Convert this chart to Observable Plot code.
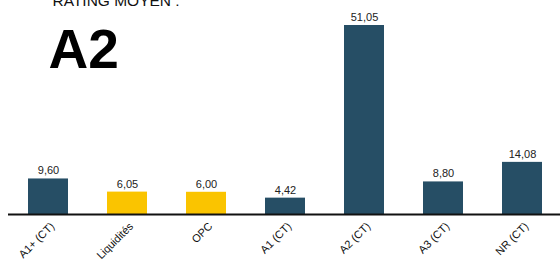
<!DOCTYPE html>
<html>
<head>
<meta charset="utf-8">
<script src="https://cdn.jsdelivr.net/npm/d3@7"></script>
<script src="https://cdn.jsdelivr.net/npm/@observablehq/plot@0.6"></script>
<style>
  html, body { margin: 0; padding: 0; background: #fff; }
  #chart { width: 560px; height: 262px; overflow: hidden; }
</style>
</head>
<body>
<div id="chart"></div>
<script>
const categories = ["A1+ (CT)", "Liquidités", "OPC", "A1 (CT)", "A2 (CT)", "A3 (CT)", "NR (CT)"];
const values = [9.60, 6.05, 6.00, 4.42, 51.05, 8.80, 14.08];
const groups = ["rating", "other", "other", "rating", "rating", "rating", "rating"];
const titleText = "RATING MOYEN :";
const bigText = "A2";

const data = categories.map((c, i) => ({ cat: c, value: values[i], group: groups[i] }));
const fmt = v => v.toFixed(2).replace(".", ",");

const chart = Plot.plot({
  width: 560,
  height: 262,
  marginTop: 25,
  marginBottom: 48,
  marginLeft: 8,
  marginRight: 0,
  style: { fontFamily: "Liberation Sans, Arial, sans-serif", background: "#fff" },
  x: { domain: categories, range: [8.4, 562.6], paddingInner: 0.49, paddingOuter: 0.245, label: null },
  y: { domain: [0, 51.05], axis: null },
  color: { domain: ["rating", "other"], range: ["#264e65", "#fac400"] },
  marks: [
    Plot.barY(data, { x: "cat", y: "value", fill: "group" }),
    Plot.text(data, { x: "cat", y: "value", text: d => fmt(d.value), dy: -8, fontSize: 11, fill: "#222" }),
    Plot.ruleY([0], { stroke: "#111", strokeWidth: 2 }),
    Plot.axisX({ tickSize: 0, tickRotate: -45, tickPadding: 4, dx: 4, dy: 6, fontSize: 11, fill: "#111", label: null }),
    Plot.text([titleText], { frameAnchor: "top-left", dx: 44, dy: -31, fontSize: 15.5, textAnchor: "start", fill: "#111" }),
    Plot.text([bigText], { frameAnchor: "top-left", dx: 40, dy: 3, fontSize: 55, fontWeight: "bold", textAnchor: "start", fill: "#000" })
  ]
});
document.getElementById("chart").appendChild(chart);
</script>
</body>
</html>
